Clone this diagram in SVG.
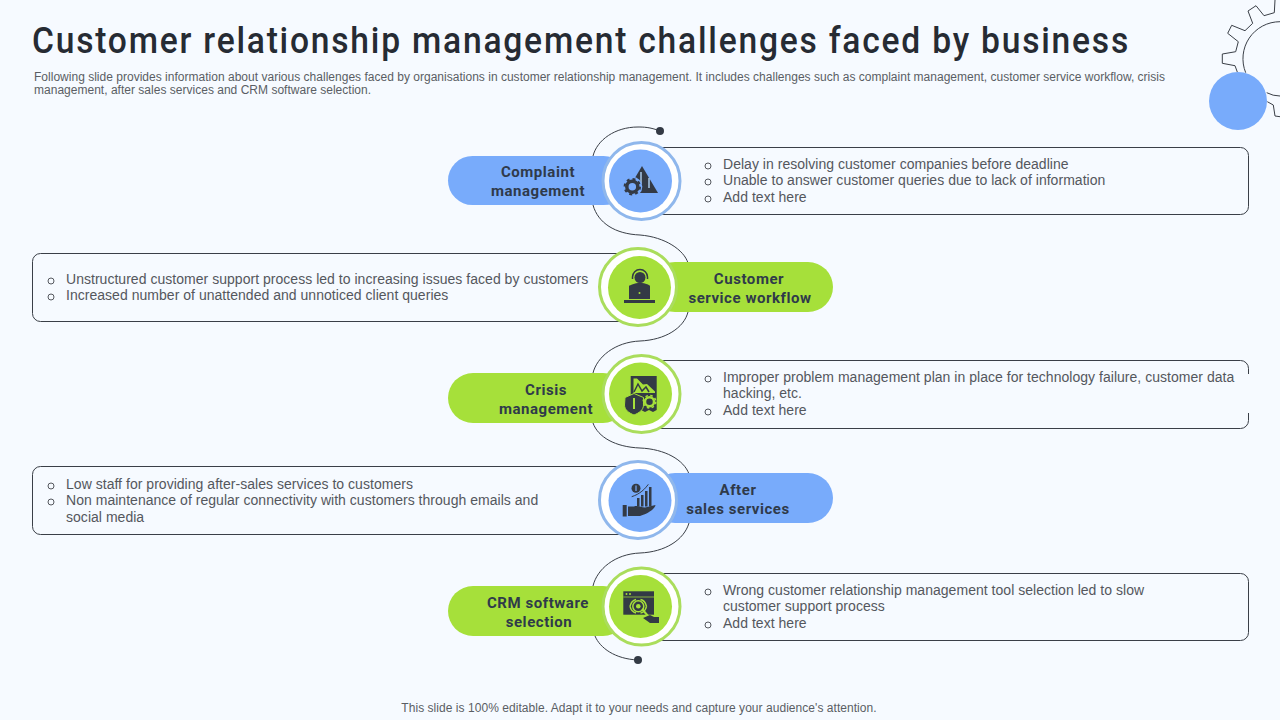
<svg xmlns="http://www.w3.org/2000/svg" width="1280" height="720" viewBox="0 0 1280 720">
<style>
text{font-family:"Liberation Sans",Arial,sans-serif}
.title{font-family:"Roboto","Liberation Sans",sans-serif;font-size:36px;font-weight:500;fill:#262b33;letter-spacing:1.9px}
.sub{font-size:12px;fill:#5a5e64;letter-spacing:.015px}
.body{font-size:14px;fill:#54575d;letter-spacing:.03px}
.foot{font-size:12px;fill:#5a5e64;letter-spacing:.045px}
.lab{font-family:"Roboto","Liberation Sans",sans-serif;font-size:15px;font-weight:700;fill:#2f3a4a;text-anchor:middle;letter-spacing:.55px}
.box{fill:none;stroke:#3a3f47;stroke-width:1}
.wire{fill:none;stroke:#3a3f47;stroke-width:1}
.bul{fill:none;stroke:#55585e;stroke-width:1}
.ic{fill:#333a45}
.blue{fill:#78abfb}.green{fill:#a6e03a}
.rb{fill:#fff;stroke:#8fb7ec;stroke-width:3}
.rg{fill:#fff;stroke:#aadd5c;stroke-width:3}
.lg{fill:none;stroke:#a6e03a}
.lb{fill:none;stroke:#78abfb}
</style>
<rect width="1280" height="720" fill="#f6faff"/>
<g id="decor">
<path class="wire" d="M1275 0L1274.300 12.700L1264 15.700L1256 5.700L1248 11L1252.700 23.300L1245 30.700L1231.700 25.300L1227.700 33.300L1238.300 41.700L1235.700 51.700L1222.300 54L1222.300 63.300L1235 65.700L1237.300 72"/>
<path class="wire" d="M1245.700 72.700A37 37 0 0 1 1280 21.700M1266.700 92.700Q1273 96 1280 96M1267.300 101.700L1273.300 105L1275 116L1280 116.700"/>
<circle class="blue" cx="1238" cy="101" r="29"/>
</g>
<text class="title" x="32" y="53" textLength="1098" lengthAdjust="spacingAndGlyphs">Customer relationship management challenges faced by business</text>
<text class="sub" x="34" y="81">Following slide provides information about various challenges faced by organisations in customer relationship management. It includes challenges such as complaint management, customer service workflow, crisis</text>
<text class="sub" x="34" y="94">management, after sales services and CRM software selection.</text>
<g id="connectors">
<path class="wire" d="M660 131C650 127 643 127 638 127C615 127 597 140 593 156"/>
<path class="wire" d="M593 205C598 223 615 234 640 235C665 237 684 250 688 263"/>
<path class="wire" d="M688 312C684 328 665 340 640 341C615 342 597 357 593 373"/>
<path class="wire" d="M593 423C598 437 615 447 640 448C665 449 684 460 689 474"/>
<path class="wire" d="M689 523C684 540 665 552 640 553C615 554 597 569 593 586"/>
<path class="wire" d="M595 636C600 648 615 659 638 660"/>
<circle class="ic" cx="660" cy="131" r="4"/>
<circle class="ic" cx="638" cy="660" r="4"/>
</g>
<g id="node1">
<path class="box" d="M660 147.500H1240.500a8 8 0 0 1 8 8V206.500a8 8 0 0 1-8 8H660"/>
<rect class="blue" x="448" y="156" width="180" height="49" rx="24.500"/>
<circle class="rb" cx="641.500" cy="181" r="38.500"/>
<circle class="blue" cx="640.500" cy="181" r="31.500"/>
<path class="ic" d="M642 166L658 193H626Z"/>
<path d="M641 172v12M649 178v10" stroke="#a9c9e8" stroke-width="1.500"/>
<circle class="blue" cx="632.300" cy="186.700" r="10"/>
<circle cx="632.300" cy="186.700" r="5.500" fill="none" stroke="#333a45" stroke-width="3.500"/>
<circle cx="632.300" cy="186.700" r="7.700" fill="none" stroke="#333a45" stroke-width="2" stroke-dasharray="3 3.050"/>
<text class="lab" x="538" y="177">Complaint</text>
<text class="lab" x="538" y="196">management</text>
<g class="bul"><circle cx="708" cy="166" r="3"/><circle cx="708" cy="182" r="3"/><circle cx="708" cy="199" r="3"/></g>
<text class="body" x="723" y="169">Delay in resolving customer companies before deadline</text>
<text class="body" x="723" y="185">Unable to answer customer queries due to lack of information</text>
<text class="body" x="723" y="202">Add text here</text>
</g>
<g id="node2">
<path class="box" d="M620 253.500H40.500a8 8 0 0 0-8 8V313.500a8 8 0 0 0 8 8H620"/>
<rect class="green" x="650" y="262" width="183" height="50" rx="25"/>
<circle class="rg" cx="638" cy="287" r="38.500"/>
<circle class="green" cx="639.500" cy="287.500" r="31.500"/>
<circle class="ic" cx="640" cy="277.500" r="5.500"/>
<path d="M632.500 279V277A7.500 7.500 0 0 1 647.500 277V279" fill="none" stroke="#333a45" stroke-width="1.500"/>
<path class="ic" d="M632 284.500Q640 281 648 284.500L650 286H629Z"/>
<path class="ic" d="M629 285.700H650V299H629ZM624 300H655V303H624Z"/>
<circle cx="639.500" cy="293" r="1" fill="#a6e03a"/>
<text class="lab" x="749" y="284">Customer</text>
<text class="lab" x="750" y="303">service workflow</text>
<g class="bul"><circle cx="51" cy="281" r="3"/><circle cx="51" cy="297" r="3"/></g>
<text class="body" x="66" y="284">Unstructured customer support process led to increasing issues faced by customers</text>
<text class="body" x="66" y="300">Increased number of unattended and unnoticed client queries</text>
</g>
<g id="node3">
<path class="box" d="M660 360.500H1240.500a8 8 0 0 1 8 8V374M1248.500 413V420.500a8 8 0 0 1-8 8H660"/>
<rect class="green" x="448" y="373" width="180" height="50" rx="25"/>
<circle class="rg" cx="641.500" cy="394" r="38.500"/>
<circle class="green" cx="640.500" cy="394" r="31.500"/>
<path class="ic" d="M630.700 376H656.700V410L653 412L649 410L645 412L641 410V400H630.700Z"/>
<path class="green" d="M633.500 378.500H637L643 384.500L647 384L655 391.500V393H633.500Z"/>
<path d="M634 392L638 384L642 391L646 387L649 392" fill="none" stroke="#333a45" stroke-width="1.500"/>
<path class="ic" stroke="#a6e03a" d="M625 397.500L634 393.500L643.500 397.500V405C643.500 410 639 413 634 415C629 413 624.500 410 624.500 405Z"/>
<rect x="633" y="398" width="2" height="11" fill="#a6e03a"/>
<circle cx="649.500" cy="401.700" r="4.500" class="lg" stroke-width="2.500"/>
<circle cx="649.500" cy="401.700" r="6.300" class="lg" stroke-width="1.500" stroke-dasharray="2.500 2.450"/>
<text class="lab" x="546" y="395">Crisis</text>
<text class="lab" x="546" y="414">management</text>
<g class="bul"><circle cx="708" cy="379" r="3"/><circle cx="708" cy="412" r="3"/></g>
<text class="body" x="723" y="382">Improper problem management plan in place for technology failure, customer data</text>
<text class="body" x="723" y="398">hacking, etc.</text>
<text class="body" x="723" y="415">Add text here</text>
</g>
<g id="node4">
<path class="box" d="M620 466.500H40.500a8 8 0 0 0-8 8V526.500a8 8 0 0 0 8 8H620"/>
<rect class="blue" x="650" y="473" width="183" height="50" rx="25"/>
<circle class="rb" cx="638" cy="500" r="38.500"/>
<circle class="blue" cx="640" cy="500.500" r="31.500"/>
<circle class="ic" cx="636" cy="488.300" r="4.500"/>
<path d="M636 485.500v5.600" stroke="#78abfb" stroke-width="1.200"/>
<path class="ic" d="M637 498h2.500v8.500h-2.500zM641 495h2.500v11.500h-2.500zM645 491h2.500v15.500h-2.500zM649 487h2.500v19.500h-2.500z"/>
<path class="ic" d="M622.700 505H626.700V516.500H622.700ZM628 506.500H634C638 505 641 507.500 645 507.500L655.500 505C655 509 647 514 640 516H628Z"/>
<path d="M631.700 496.700C640 494 645 489 648.300 484.300" fill="none" stroke="#333a45"/>
<text class="lab" x="738" y="495">After</text>
<text class="lab" x="738" y="514">sales services</text>
<g class="bul"><circle cx="51" cy="486" r="3"/><circle cx="51" cy="502" r="3"/></g>
<text class="body" x="66" y="489">Low staff for providing after-sales services to customers</text>
<text class="body" x="66" y="505">Non maintenance of regular connectivity with customers through emails and</text>
<text class="body" x="66" y="522">social media</text>
</g>
<g id="node5">
<path class="box" d="M660 573.500H1240.500a8 8 0 0 1 8 8V632.500a8 8 0 0 1-8 8H660"/>
<rect class="green" x="448" y="586" width="180" height="50" rx="25"/>
<circle class="rg" cx="641.500" cy="606.500" r="38.500"/>
<circle class="green" cx="640.500" cy="606.500" r="31.500"/>
<rect class="ic" x="623.300" y="591.300" width="30.700" height="23.400"/>
<path d="M623.300 597H654" class="lg" stroke-width=".7"/>
<circle cx="638.300" cy="606.300" r="5.500" class="lg" stroke-width="1.500"/>
<circle cx="638.300" cy="606.300" r="2.300" fill="#a6e03a"/>
<path d="M630 606.300C631 602 634 600 636 599.500M646.500 606.300C645.500 602 643 600 640.500 599.500M630 606.300C631 610.500 634 612.500 636 613M646.500 606.300C645.500 610.500 643 612.500 640.500 613" class="lg" stroke-width="1.500"/>
<path d="M642 609L648 616" stroke="#a6e03a" stroke-width="2"/>
<path class="ic" d="M643 618L650 615L654 617H659V623H650Z"/>
<circle cx="626.500" cy="594" r="1" fill="#a6e03a"/><circle cx="630" cy="594" r="1" fill="#a6e03a"/>
<text class="lab" x="538" y="608">CRM software</text>
<text class="lab" x="539" y="627">selection</text>
<g class="bul"><circle cx="708" cy="592" r="3"/><circle cx="708" cy="625" r="3"/></g>
<text class="body" x="723" y="595">Wrong customer relationship management tool selection led to slow</text>
<text class="body" x="723" y="611">customer support process</text>
<text class="body" x="723" y="628">Add text here</text>
</g>
<text class="foot" x="639" y="712" text-anchor="middle">This slide is 100% editable. Adapt it to your needs and capture your audience's attention.</text>
</svg>
